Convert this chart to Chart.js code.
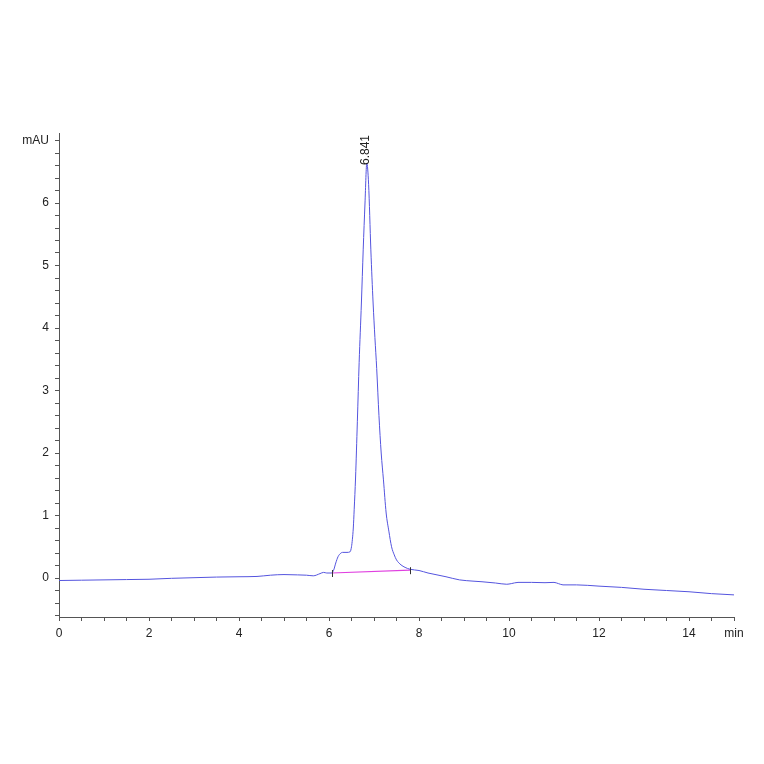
<!DOCTYPE html>
<html><head><meta charset="utf-8">
<script src="https://cdn.jsdelivr.net/npm/chart.js@4"></script>
<style>html,body{margin:0;padding:0;background:#fff;overflow:hidden;}</style>
</head><body>
<canvas id="c" width="764" height="764" style="width:764px;height:764px;display:block"></canvas>
<script>
// Retention time (min) and absorbance (mAU)
const times = [0, 0.5, 1.0, 1.5, 2.0, 2.5, 3.0, 3.5, 4.0, 4.4, 4.7, 5.0, 5.3, 5.5, 5.65, 5.8, 5.88, 5.95, 6.05, 6.1, 6.15, 6.2, 6.25, 6.3, 6.4, 6.47, 6.5, 6.52, 6.54, 6.56, 6.59, 6.63, 6.67, 6.72, 6.76, 6.80, 6.84, 6.88, 6.93, 6.98, 7.02, 7.06, 7.11, 7.16, 7.21, 7.27, 7.33, 7.39, 7.45, 7.50, 7.60, 7.69, 7.80, 8.0, 8.2, 8.4, 8.6, 8.9, 9.2, 9.4, 9.7, 9.95, 10.05, 10.2, 10.5, 10.8, 11.0, 11.1, 11.2, 11.5, 12.0, 12.5, 13.0, 13.5, 14.0, 14.5, 15.0];
const signal = [-0.04, -0.035, -0.03, -0.025, -0.02, -0.005, 0.005, 0.015, 0.02, 0.025, 0.045, 0.055, 0.05, 0.045, 0.035, 0.07, 0.09, 0.08, 0.08, 0.12, 0.24, 0.34, 0.39, 0.41, 0.41, 0.42, 0.5, 0.62, 0.8, 1.1, 1.6, 2.5, 3.45, 4.4, 5.25, 6.0, 6.64, 6.3, 5.25, 4.4, 3.85, 3.35, 2.6, 2.0, 1.57, 1.04, 0.75, 0.5, 0.37, 0.29, 0.21, 0.17, 0.14, 0.12, 0.08, 0.05, 0.02, -0.03, -0.05, -0.06, -0.08, -0.1, -0.09, -0.07, -0.07, -0.075, -0.07, -0.09, -0.11, -0.11, -0.13, -0.15, -0.18, -0.2, -0.22, -0.25, -0.27];

// Integration baseline
const baselineTimes = [6.06, 7.80];
const baselineValues = [0.08, 0.125];

// Peak annotation
const peakTimes = [6.841];
const peakValues = [6.64];
const peakLabels = ['6.841'];

// Axis ticks
const xTickValues = [0,0.5,1,1.5,2,2.5,3,3.5,4,4.5,5,5.5,6,6.5,7,7.5,8,8.5,9,9.5,10,10.5,11,11.5,12,12.5,13,13.5,14,14.5,15];
const xTickLabelValues = [0,2,4,6,8,10,12,14,15];
const xTickLabels = ['0','2','4','6','8','10','12','14','min'];
const yTickValues = [-0.6,-0.4,-0.2,0,0.2,0.4,0.6,0.8,1,1.2,1.4,1.6,1.8,2,2.2,2.4,2.6,2.8,3,3.2,3.4,3.6,3.8,4,4.2,4.4,4.6,4.8,5,5.2,5.4,5.6,5.8,6,6.2,6.4,6.6,6.8,7];
const yTickLabelValues = [0,1,2,3,4,5,6,7];
const yTickLabels = ['0','1','2','3','4','5','6','mAU'];

function labelFor(v, vals, labels) {
  for (let i = 0; i < vals.length; i++) if (Math.abs(vals[i] - v) < 1e-6) return labels[i];
  return '';
}

const traceData = times.map((t, i) => ({x: t, y: signal[i]}));
const baseData = baselineTimes.map((t, i) => ({x: t, y: baselineValues[i]}));

const annotPlugin = {
  id: 'annot',
  afterDatasetsDraw(chart) {
    const ctx = chart.ctx, xs = chart.scales.x, ys = chart.scales.y;
    ctx.save();
    // baseline end markers
    ctx.strokeStyle = '#333';
    ctx.lineWidth = 1;
    baselineTimes.forEach((t, i) => {
      const px = Math.round(xs.getPixelForValue(t)) + 0.5;
      const py = ys.getPixelForValue(baselineValues[i]);
      ctx.beginPath();
      ctx.moveTo(px, py - 3);
      ctx.lineTo(px, py + 4);
      ctx.stroke();
    });
    // peak labels
    ctx.fillStyle = '#222';
    ctx.font = '12px "Liberation Sans", Arial, sans-serif';
    ctx.textAlign = 'left';
    ctx.textBaseline = 'middle';
    peakTimes.forEach((t, i) => {
      const px = xs.getPixelForValue(t);
      const py = ys.getPixelForValue(peakValues[i]);
      ctx.save();
      ctx.translate(px - 1, py + 2);
      ctx.rotate(-Math.PI / 2);
      ctx.fillText(peakLabels[i], 0, 0);
      ctx.restore();
    });
    ctx.restore();
  }
};

new Chart(document.getElementById('c'), {
  type: 'line',
  data: {
    datasets: [
      {data: traceData, borderColor: 'rgb(84,84,222)', borderWidth: 1, pointRadius: 0, fill: false, cubicInterpolationMode: 'monotone'},
      {data: baseData, borderColor: 'rgb(224,64,224)', borderWidth: 1.2, pointRadius: 0, fill: false}
    ]
  },
  options: {
    responsive: false,
    devicePixelRatio: 1,
    animation: false,
    events: [],
    layout: {padding: {top: 133, right: 30, left: 0, bottom: 0}},
    plugins: {legend: {display: false}, tooltip: {enabled: false}},
    scales: {
      x: {
        type: 'linear', min: 0, max: 15,
        afterFit: s => { s.height = 147; },
        afterBuildTicks: s => { s.ticks = xTickValues.map(v => ({value: v})); },
        border: {display: true, color: '#555', width: 1},
        grid: {display: true, drawOnChartArea: false, drawTicks: true, tickLength: 4, color: '#555'},
        ticks: {autoSkip: false, maxRotation: 0, padding: 5, color: '#222',
          font: {family: '"Liberation Sans", Arial, sans-serif', size: 12},
          callback: v => labelFor(v, xTickLabelValues, xTickLabels)}
      },
      y: {
        type: 'linear', min: -0.624, max: 7.12,
        afterFit: s => { s.width = 59; },
        afterBuildTicks: s => { s.ticks = yTickValues.map(v => ({value: v})); },
        border: {display: true, color: '#555', width: 1},
        grid: {display: true, drawOnChartArea: false, drawTicks: true, tickLength: 4, color: '#555'},
        ticks: {autoSkip: false, padding: 6, color: '#222',
          font: {family: '"Liberation Sans", Arial, sans-serif', size: 12},
          callback: v => labelFor(v, yTickLabelValues, yTickLabels)}
      }
    }
  },
  plugins: [annotPlugin]
});
</script>
</body></html>
